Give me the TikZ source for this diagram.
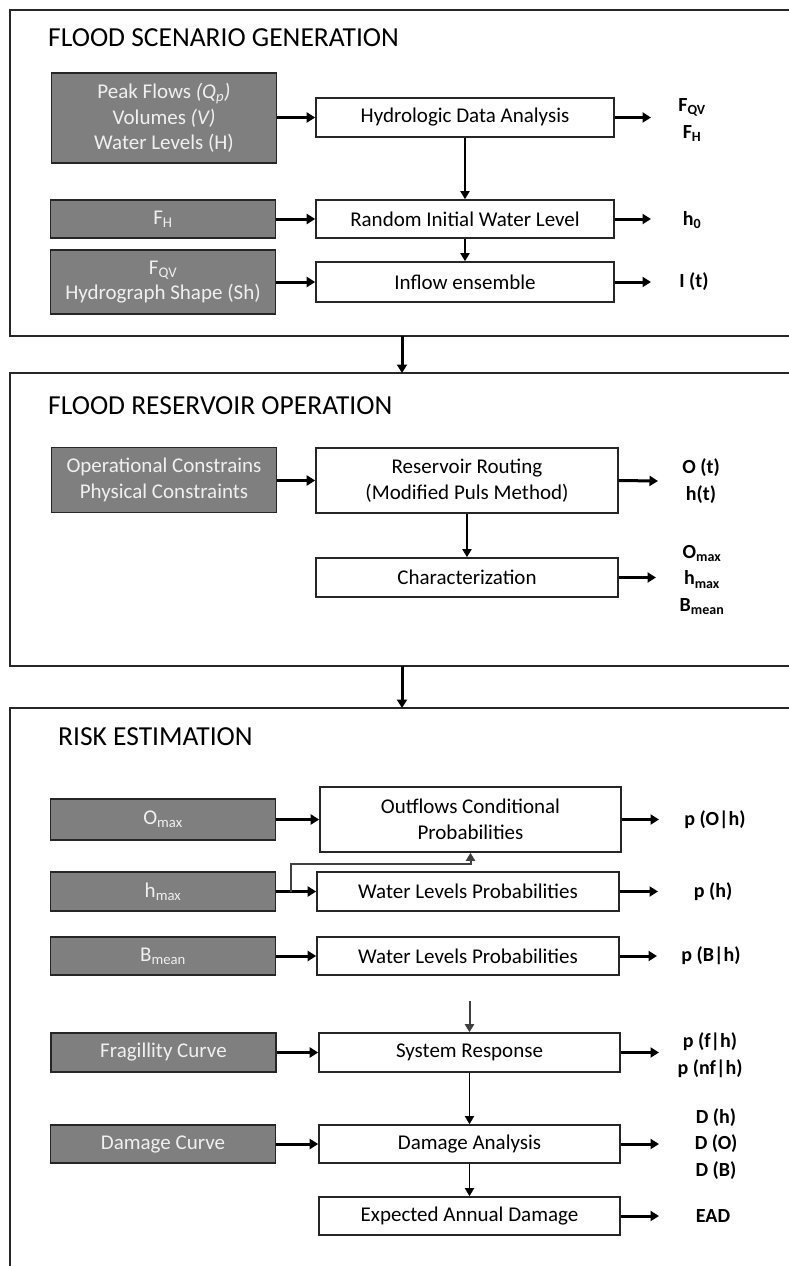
\documentclass[tikz,border=0pt]{standalone}
\usepackage{fontspec}
\setmainfont{Carlito}
\usetikzlibrary{arrows.meta}
\definecolor{inputgray}{HTML}{7F7F7F}
\definecolor{edgedark}{HTML}{262626}
\definecolor{inputtext}{HTML}{F0F0F0}
\definecolor{linkgray}{HTML}{404040}
\tikzset{
  panel/.style={draw=edgedark, line width=1.6pt},
  paneltitle/.style={anchor=west, inner sep=0, font=\fontsize{27.5}{32}\selectfont},
  inbox/.style={draw=edgedark, fill=inputgray, line width=1.6pt, text=inputtext,
    font=\fontsize{21}{25.5}\selectfont, align=center, minimum width=225pt, inner sep=0},
  procbox/.style={draw=edgedark, fill=white, line width=1.6pt,
    font=\fontsize{21}{26.5}\selectfont, align=center, minimum width=298pt, inner sep=0},
  outlbl/.style={font=\bfseries\fontsize{20}{26.5}\selectfont, align=center, inner sep=0},
  flow/.style={-{Triangle[length=8.5pt,width=10pt]}, line width=3pt, draw=black},
  thinflow/.style={-{Triangle[length=8pt,width=9pt]}, line width=1.8pt, draw=black},
  greyflow/.style={-{Triangle[length=8pt,width=9pt]}, line width=2pt, draw=linkgray},
}
\begin{document}
\begin{tikzpicture}[x=1pt,y=-1pt]
\useasboundingbox (0,0) rectangle (788,1266);
\fill[white] (0,0) rectangle (788,1266);

% ---- panels ----
\draw[panel] (10,10) rectangle (800,336);
\draw[panel] (10,373) rectangle (800,666);
\draw[panel] (10,708) rectangle (800,1290);
\coordinate (p1b) at (402,336);
\coordinate (p2t) at (402,373);
\coordinate (p2b) at (402,666);
\coordinate (p3t) at (402,708);
\draw[flow] (p1b) -- (p2t);
\draw[flow] (p2b) -- (p3t);

% ---- flood scenario generation ----
\node[paneltitle] (t1) at (48,38) {FLOOD SCENARIO GENERATION};
\node[inbox, minimum height=90pt] (g1) at (164,118)
  {Peak Flows \textit{(Q\textsubscript{p})}\\ Volumes \textit{(V)}\\ Water Levels (H)};
\node[procbox, minimum height=39pt] (hda) at (465,117.5) {Hydrologic Data Analysis};
\node[inbox, minimum height=38pt] (g2) at (163,219) {F\textsubscript{H}};
\node[procbox, minimum height=38pt] (riw) at (465,219) {Random Initial Water Level};
\node[inbox, minimum height=64pt] (g3) at (163,282) {F\textsubscript{QV}\\ Hydrograph Shape (Sh)};
\node[procbox, minimum height=40pt] (inf) at (465,282) {Inflow ensemble};

\node[outlbl] (o1) at (692,120) {F\textsubscript{QV}\\ F\textsubscript{H}};
\node[outlbl] (o2) at (692,220) {h\textsubscript{0}};
\node[outlbl] (o3) at (694,282) {I (t)};
\coordinate (e1) at (651,117.5);
\coordinate (e2) at (651,219);
\coordinate (e3) at (651,282);

\draw[flow] (g1.east |- hda.west) -- (hda.west);
\draw[flow] (g2.east) -- (riw.west);
\draw[flow] (g3.east |- inf.west) -- (inf.west);
\draw[flow] (hda.east) -- (e1);
\draw[flow] (riw.east) -- (e2);
\draw[flow] (inf.east) -- (e3);
\draw[thinflow] (hda.south) -- (riw.north);
\draw[thinflow] (riw.south) -- (inf.north);

% ---- flood reservoir operation ----
\node[paneltitle] (t2) at (48,406) {FLOOD RESERVOIR OPERATION};
\node[inbox, minimum height=65pt] (g4) at (164,480) {Operational Constrains\\ Physical Constraints};
\node[procbox, minimum height=65pt, minimum width=302pt] (rr) at (467,480.5) {Reservoir Routing\\ (Modified Puls Method)};
\node[procbox, minimum height=39pt, minimum width=302pt] (ch) at (467,577.5) {Characterization};

\node[outlbl] (o4) at (701,481) {O (t)\\ h(t)};
\node[outlbl] (o5) at (702,580) {O\textsubscript{max}\\ h\textsubscript{max}\\ B\textsubscript{mean}};
\coordinate (e4) at (658,481);
\coordinate (e5) at (656,577.5);

\draw[flow] (g4.east |- rr.west) -- (rr.west);
\draw[flow] (rr.east) -- (e4);
\draw[flow] (ch.east) -- (e5);
\draw[thinflow] (rr.south) -- (ch.north);

% ---- risk estimation ----
\node[paneltitle] (t3) at (58,737) {RISK ESTIMATION};
\node[inbox, minimum height=41pt] (g5) at (163,819.5) {O\textsubscript{max}};
\node[procbox, minimum height=65pt, minimum width=301pt] (ocp) at (470.5,819.5) {Outflows Conditional\\ Probabilities};
\node[inbox, minimum height=39pt] (g6) at (163,891.5) {h\textsubscript{max}};
\node[procbox, minimum height=39pt, minimum width=302pt] (wlp) at (468,891.5) {Water Levels Probabilities};
\node[inbox, minimum height=38pt] (g7) at (163,956) {B\textsubscript{mean}};
\node[procbox, minimum height=38pt, minimum width=302pt] (wlb) at (468,956) {Water Levels Probabilities};
\node[inbox, minimum height=39pt] (g8) at (163.5,1052.5) {Fragillity Curve};
\node[procbox, minimum height=39pt, minimum width=301pt] (sr) at (469.5,1052.5) {System Response};
\node[inbox, minimum height=38pt] (g9) at (163,1144) {Damage Curve};
\node[procbox, minimum height=38pt, minimum width=301pt] (da) at (469.5,1144) {Damage Analysis};
\node[procbox, minimum height=38pt, minimum width=301pt] (ead) at (469.5,1216) {Expected Annual Damage};

\node[outlbl] (o6) at (715,820) {p (O|h)};
\node[outlbl] (o7) at (713,892) {p (h)};
\node[outlbl] (o8) at (711,956) {p (B|h)};
\node[outlbl] (o9) at (710,1055) {p (f|h)\\ p (nf|h)};
\node[outlbl] (o10) at (716,1144) {D (h)\\ D (O)\\ D (B)};
\node[outlbl] (o11) at (713,1216) {EAD};
\coordinate (e6) at (659,819.5);
\coordinate (e7) at (658,891.5);
\coordinate (e8) at (657,956);
\coordinate (e9) at (659,1052.5);
\coordinate (e10) at (659,1144);
\coordinate (e11) at (659,1216);

\draw[flow] (g5.east) -- (ocp.west);
\draw[flow] (g6.east) -- (wlp.west);
\draw[flow] (g7.east) -- (wlb.west);
\draw[flow] (g8.east) -- (sr.west);
\draw[flow] (g9.east) -- (da.west);
\draw[flow] (ocp.east) -- (e6);
\draw[flow] (wlp.east) -- (e7);
\draw[flow] (wlb.east) -- (e8);
\draw[flow] (sr.east) -- (e9);
\draw[flow] (da.east) -- (e10);
\draw[flow] (ead.east) -- (e11);

% h_max also feeds the conditional outflow probabilities
\coordinate (hb) at (291,891.5);
\draw[greyflow] (hb) -- (291,864) -| (ocp.south);

% probabilities feed the system response
\coordinate (srin) at (469.5,1001);
\draw[greyflow] (srin) -- (sr.north);
\draw[thinflow] (sr.south) -- (da.north);
\draw[thinflow] (da.south) -- (ead.north);
\end{tikzpicture}
\end{document}
